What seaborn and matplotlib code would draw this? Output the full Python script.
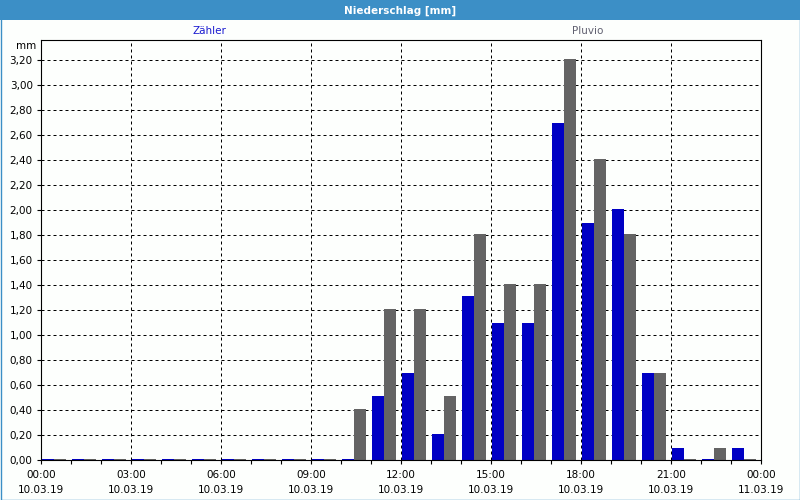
import numpy as np
import pandas as pd
import matplotlib
matplotlib.use("Agg")
import matplotlib.pyplot as plt
import seaborn as sns
from matplotlib.patches import Rectangle
from matplotlib.ticker import MultipleLocator, FixedLocator

# ---- data ----
hours = list(range(24))
zaehler = [0.01, 0.01, 0.01, 0.01, 0.01, 0.01, 0.01, 0.01, 0.01, 0.01,
           0.01, 0.51, 0.70, 0.21, 1.31, 1.10, 1.10, 2.70, 1.90, 2.01,
           0.70, 0.10, 0.01, 0.10]
pluvio = [0.01, 0.01, 0.01, 0.01, 0.01, 0.01, 0.01, 0.01, 0.01, 0.01,
          0.41, 1.21, 1.21, 0.51, 1.81, 1.41, 1.41, 3.21, 2.41, 1.81,
          0.70, 0.01, 0.10, 0.01]
series_names = ["Zähler", "Pluvio"]
x_tick_hours = [0, 3, 6, 9, 12, 15, 18, 21, 24]
x_tick_labels = ["00:00\n10.03.19", "03:00\n10.03.19", "06:00\n10.03.19",
                 "09:00\n10.03.19", "12:00\n10.03.19", "15:00\n10.03.19",
                 "18:00\n10.03.19", "21:00\n10.03.19", "00:00\n11.03.19"]
y_ticks = [round(0.2 * i, 2) for i in range(17)]
title = "Niederschlag [mm]"
unit = "mm"

blue = "#0000c4"
gray = "#646464"

df = pd.DataFrame({
    "pos": [h + 0.43 for h in hours] * 2,
    "series": [series_names[0]] * 24 + [series_names[1]] * 24,
    "value": zaehler + pluvio,
})

sns.set_theme(style="white")
plt.rcParams["font.family"] = ["DejaVu Sans"]

fig = plt.figure(figsize=(8, 5), dpi=100)
fig.patch.set_facecolor("#fdfffd")
ax = fig.add_axes([41 / 800, 40 / 500, 720 / 800, 420 / 500])
ax.set_facecolor("#fdfffd")

sns.barplot(data=df, x="pos", y="value", hue="series", native_scale=True,
            palette={series_names[0]: blue, series_names[1]: gray},
            width=0.8, gap=0.06, saturation=1, legend=False, ax=ax,
            edgecolor="none", linewidth=0, err_kws={"linewidth": 0})

ax.set_xlim(0, 24)
ax.set_ylim(0, 3.36)
ax.set_xlabel("")
ax.set_ylabel("")

ax.xaxis.set_major_locator(FixedLocator(x_tick_hours))
ax.set_xticklabels(x_tick_labels, fontsize=7.5, color="black", linespacing=1.7)
ax.xaxis.set_minor_locator(MultipleLocator(1))
ax.set_yticks(y_ticks)
ax.set_yticklabels([f"{v:.2f}".replace(".", ",") for v in y_ticks],
                   fontsize=7.5, color="black")

ax.tick_params(axis="x", which="major", direction="out", length=3, width=0.8,
               color="black", pad=4, bottom=True)
ax.tick_params(axis="x", which="minor", direction="out", length=3, width=0.8,
               color="black", bottom=True)
ax.tick_params(axis="y", which="major", direction="out", length=3, width=0.8,
               color="black", pad=3, left=True)

ax.grid(False)
for v in y_ticks[1:]:
    ax.axhline(v, color="black", lw=0.72, ls=(0, (3, 3)), zorder=0.5)
for h in x_tick_hours[1:-1]:
    ax.axvline(h, color="black", lw=0.72, ls=(0, (3, 3)), zorder=0.5)

for s in ax.spines.values():
    s.set_visible(True)
    s.set_color("black")
    s.set_linewidth(0.8)

# title bar
fig.patches.append(Rectangle((0, 1 - 20 / 500), 1, 20 / 500,
                             transform=fig.transFigure, facecolor="#3c8fc6",
                             edgecolor="none", zorder=0))
fig.patches.append(Rectangle((0.5 / 800, 0.5 / 500), 799 / 800, 499 / 500,
                             transform=fig.transFigure, facecolor="none",
                             edgecolor="#3c8fc6", linewidth=1, zorder=5))
fig.text(0.5, 1 - 10.5 / 500, title, ha="center", va="center",
         color="white", fontsize=7.5, fontweight="bold")

fig.text(209 / 800, 1 - 31 / 500, series_names[0], ha="center", va="center",
         color="#1a1ad0", fontsize=7.5)
fig.text(588 / 800, 1 - 31 / 500, series_names[1], ha="center", va="center",
         color="#606070", fontsize=7.5)
fig.text(36 / 800, 1 - 46 / 500, unit, ha="right", va="center",
         color="black", fontsize=7.5)

fig.savefig("out.png", dpi=100, facecolor=fig.get_facecolor())
